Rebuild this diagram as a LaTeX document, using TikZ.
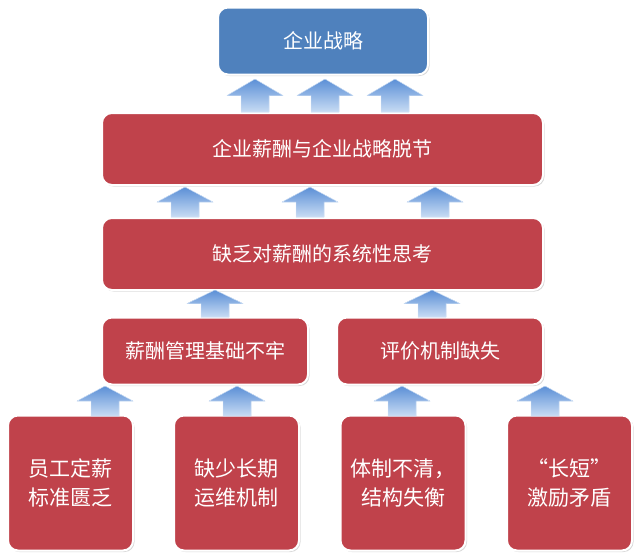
\documentclass[tikz,border=0pt]{standalone}
\usepackage{fontspec}
\newfontfamily\cjk{Noto Sans CJK SC}
\usetikzlibrary{shadows}
\definecolor{boxred}{HTML}{C0424B}
\definecolor{boxblue}{HTML}{4F81BD}
\definecolor{arrtop}{HTML}{5B8FD6}
\definecolor{arrbot}{HTML}{C8DCF4}
\tikzset{
  rbox/.style={draw=white,line width=2pt,rounded corners=10pt,fill=boxred,text=white,font=\cjk\fontsize{20}{27}\selectfont,align=center,drop shadow={shadow xshift=1.5pt,shadow yshift=-1.5pt,opacity=0.3},inner sep=0pt},
  bbox/.style={rbox,fill=boxblue},
  bigtext/.style={font=\cjk\fontsize{21}{29}\selectfont},
  upar/.style={fill=arrtop,draw=arrbot!60!white,line width=0.4pt}
}
\newcommand{\uparr}[3]{% x, ybottom(px), ytop(px)
  \fill[upar,top color=arrtop,bottom color=arrbot]
    ({#1-14},{-#2}) -- ({#1-14},{-(#2+#3)/2}) -- ({#1-28},{-(#2+#3)/2}) -- (#1,{-#3}) -- ({#1+28},{-(#2+#3)/2}) -- ({#1+14},{-(#2+#3)/2}) -- ({#1+14},{-#2}) -- cycle;}
\begin{document}
\begin{tikzpicture}[x=1pt,y=1pt]
\useasboundingbox (0,0) rectangle (640,-558);
\node[bbox,minimum width=210,minimum height=67] (top) at (323,-41) {企业战略};
\node[rbox,minimum width=441,minimum height=72] (r2) at (322.5,-149) {企业薪酬与企业战略脱节};
\node[rbox,minimum width=441,minimum height=72] (r3) at (322.5,-254) {缺乏对薪酬的系统性思考};
\node[rbox,minimum width=206,minimum height=67] (r4a) at (205,-351) {薪酬管理基础不牢};
\node[rbox,minimum width=206,minimum height=67] (r4b) at (440,-351) {评价机制缺失};
\node[rbox,bigtext,minimum width=125,minimum height=135] (b1) at (70.5,-483) {员工定薪\\标准匮乏};
\node[rbox,bigtext,minimum width=125,minimum height=135] (b2) at (236.5,-483) {缺少长期\\运维机制};
\node[rbox,bigtext,minimum width=125,minimum height=135] (b3) at (403,-483) {体制不清，\\结构失衡};
\node[rbox,bigtext,minimum width=125,minimum height=135] (b4) at (569.5,-483) {“长短”\\激励矛盾};
\foreach \x in {255,325,395} {\uparr{\x}{112}{79}}
\foreach \x in {185,310,435} {\uparr{\x}{217}{187}}
\foreach \x in {215,432} {\uparr{\x}{317}{290}}
\foreach \x in {105,237,402,545} {\uparr{\x}{416}{386}}
\end{tikzpicture}
\end{document}
